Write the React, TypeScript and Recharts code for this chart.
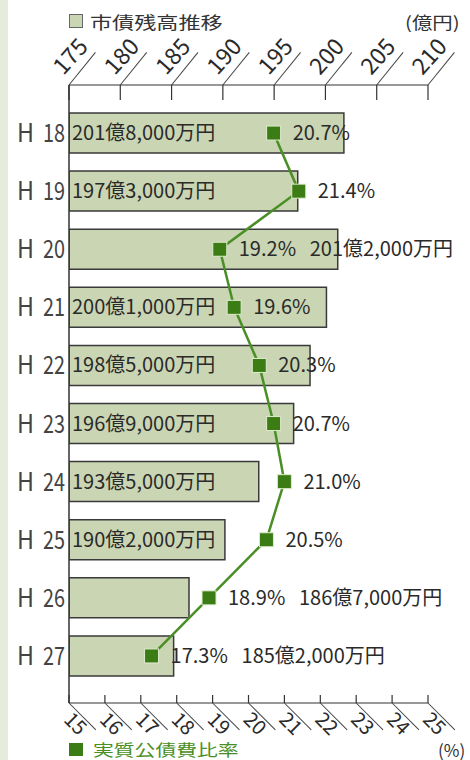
import { ComposedChart, Bar, Line, XAxis, YAxis, LabelList } from "recharts";

const years = ["H18", "H19", "H20", "H21", "H22", "H23", "H24", "H25", "H26", "H27"];
const debt = [201.8, 197.3, 201.2, 200.1, 198.5, 196.9, 193.5, 190.2, 186.7, 185.2];
const debtLabels = [
  "201億8,000万円",
  "197億3,000万円",
  "201億2,000万円",
  "200億1,000万円",
  "198億5,000万円",
  "196億9,000万円",
  "193億5,000万円",
  "190億2,000万円",
  "186億7,000万円",
  "185億2,000万円",
];
const ratio = [20.7, 21.4, 19.2, 19.6, 20.3, 20.7, 21.0, 20.5, 18.9, 17.3];
const debtTicks = [175, 180, 185, 190, 195, 200, 205, 210];
const ratioTicks = [15, 16, 17, 18, 19, 20, 21, 22, 23, 24, 25];

const data = years.map((y, i) => ({ year: y, debt: debt[i], ratio: ratio[i], label: debtLabels[i] }));

const FONT = '"Noto Sans CJK JP", "Noto Sans", sans-serif';
const GREEN = "#4a8f25";
const TEXT = "#2a2a2a";

// amount label goes to the right when the ratio marker sits on top of it
const outside = (i: number) => ratio[i] < 19.4;

const TopTick = ({ x, y, payload }: any) => (
  <g>
    <line x1={x} y1={y} x2={x} y2={y + 15} stroke="#333" strokeWidth={1.2} />
    <g transform={`translate(${x},${y}) rotate(-51)`}>
      <line x1={0} y1={0} x2={42} y2={0} stroke="#444" strokeWidth={1} />
    </g>
    <g transform={`translate(${x},${y}) rotate(-48)`}>
      <text x={3} y={-10} fontSize={23} fill={TEXT} fontFamily={FONT}>
        {payload.value}
      </text>
    </g>
  </g>
);

const BottomTick = ({ x, y, payload }: any) => (
  <g>
    <line x1={x} y1={y} x2={x} y2={y - 8} stroke="#333" strokeWidth={1.2} />
    <g transform={`translate(${x},${y}) rotate(45)`}>
      <line x1={0} y1={0} x2={38} y2={0} stroke="#444" strokeWidth={1} />
      <text x={8} y={17} fontSize={20} fill={TEXT} fontFamily={FONT}>
        {payload.value}
      </text>
    </g>
  </g>
);

const YearTick = ({ x, y, payload }: any) => (
  <g fontSize={25} fill="#444" fontFamily={FONT}>
    <text x={x - 35} y={y + 9} textAnchor="end" textLength={17} lengthAdjust="spacingAndGlyphs">
      {payload.value.slice(0, 1)}
    </text>
    <text x={x - 4} y={y + 9} textAnchor="end" textLength={22} lengthAdjust="spacingAndGlyphs">
      {payload.value.slice(1)}
    </text>
  </g>
);

const Square = ({ cx, cy }: any) => (
  <rect x={cx - 7} y={cy - 7} width={14} height={14} fill="#3b7d14" stroke="#dfeccf" strokeWidth={1} />
);

const InsideLabel = ({ x, y, height, index }: any) => {
  if (outside(index)) return null;
  return (
    <text x={x + 3} y={y + height / 2 + 7} fontSize={20} fill={TEXT} fontFamily={FONT}>
      {debtLabels[index]}
    </text>
  );
};

const RatioLabel = ({ x, y, index }: any) => (
  <g>
    <text x={x + 19} y={y + 7} fontSize={20} fill={TEXT} fontFamily={FONT}>
      {ratio[index].toFixed(1)}%
    </text>
    {outside(index) && (
      <text x={x + 90} y={y + 7} fontSize={20} fill={TEXT} fontFamily={FONT}>
        {debtLabels[index]}
      </text>
    )}
  </g>
);

const stretch = { display: "inline-block", transform: "scaleX(1.3)", transformOrigin: "left center" } as const;

export default function App() {
  return (
    <div style={{ position: "absolute", left: 0, top: 0, width: 470, height: 760, background: "#fff", fontFamily: FONT }}>
      <div style={{ position: "absolute", left: 0, top: 0, width: 8, height: 760, background: "#e6ebdc" }} />
      <div style={{ position: "absolute", left: 69, top: 10, height: 22, display: "flex", alignItems: "center", fontSize: 17, color: "#333" }}>
        <span style={{ width: 12, height: 12, background: "#c9d5b3", border: "1px solid #666", marginRight: 7 }} />
        <span style={stretch}>市債残高推移</span>
      </div>
      <div style={{ position: "absolute", left: 405, top: 10, height: 22, display: "flex", alignItems: "center", fontSize: 17, color: "#333" }}>
        <span style={{ ...stretch, transform: "scaleX(1.2)" }}>(億円)</span>
      </div>
      <div style={{ position: "absolute", left: 69, top: 738, height: 22, display: "flex", alignItems: "center", fontSize: 16, color: GREEN }}>
        <span style={{ width: 14, height: 13, background: "#3b7d14", marginRight: 10 }} />
        <span style={stretch}>実質公債費比率</span>
      </div>
      <div style={{ position: "absolute", left: 438, top: 738, height: 22, display: "flex", alignItems: "center", fontSize: 17, color: "#333" }}>
        <span>(%)</span>
      </div>
      <div style={{ position: "absolute", left: 0, top: 0 }}>
        <ComposedChart
          width={470}
          height={760}
          data={data}
          layout="vertical"
          margin={{ top: 55, right: 42, bottom: 27, left: 9 }}
        >
          <XAxis
            xAxisId="debt"
            type="number"
            orientation="top"
            domain={[175, 210]}
            ticks={debtTicks}
            height={30}
            tickSize={0}
            tickMargin={0}
            tickLine={false}
            axisLine={{ stroke: "#333", strokeWidth: 1.2 }}
            tick={<TopTick />}
            allowDataOverflow
          />
          <XAxis
            xAxisId="ratio"
            type="number"
            orientation="bottom"
            domain={[15, 25]}
            ticks={ratioTicks}
            height={30}
            tickSize={0}
            tickMargin={0}
            tickLine={false}
            axisLine={{ stroke: "#333", strokeWidth: 1.2 }}
            tick={<BottomTick />}
            allowDataOverflow
          />
          <YAxis
            type="category"
            dataKey="year"
            width={60}
            padding={{ top: 19, bottom: 18 }}
            tickSize={0}
            tickMargin={0}
            tickLine={false}
            axisLine={{ stroke: "#333", strokeWidth: 1.5 }}
            tick={<YearTick />}
          />
          <Bar
            xAxisId="debt"
            dataKey="debt"
            barSize={40}
            fill="#c9d5b3"
            stroke="#3a3a3a"
            strokeWidth={1.5}
            isAnimationActive={false}
          >
            <LabelList dataKey="debt" content={<InsideLabel />} />
          </Bar>
          <Line
            xAxisId="ratio"
            dataKey="ratio"
            stroke={GREEN}
            strokeWidth={2.5}
            dot={<Square />}
            activeDot={false}
            isAnimationActive={false}
          >
            <LabelList dataKey="ratio" content={<RatioLabel />} />
          </Line>
        </ComposedChart>
      </div>
    </div>
  );
}
